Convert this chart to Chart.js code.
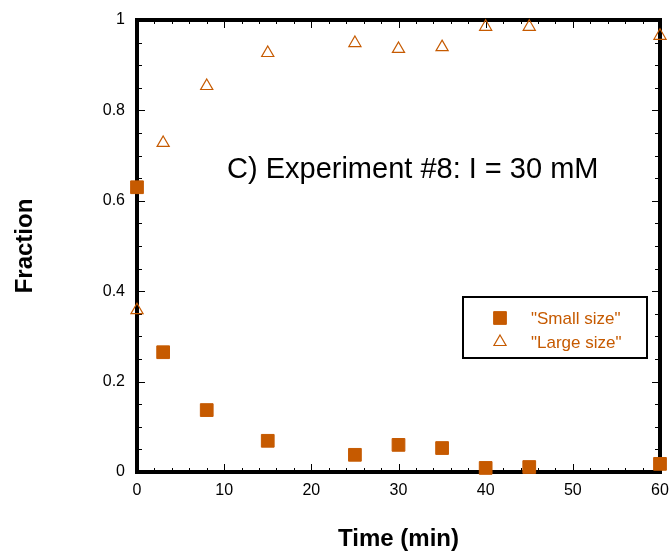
<!DOCTYPE html>
<html>
<head>
<meta charset="utf-8">
<script src="https://cdn.jsdelivr.net/npm/chart.js@4.4.1/dist/chart.umd.min.js"></script>
<style>
    html, body { margin: 0; padding: 0; background: #fff; }
    #wrap { width: 670px; height: 554px; }
</style>
</head>
<body>
<div id="wrap"><canvas id="grafico" width="670" height="554"></canvas></div>
<script>
// dados
const tempos = [0, 3, 8, 15, 25, 30, 35, 40, 45, 60];
const pequeno = [0.63, 0.265, 0.137, 0.069, 0.038, 0.06, 0.053, 0.009, 0.011, 0.018];
const grande = [0.358, 0.728, 0.854, 0.927, 0.949, 0.936, 0.94, 0.985, 0.985, 0.965];
const nomesSeries = ['"Small size"', '"Large size"'];
const xTickLabels = [0, 10, 20, 30, 40, 50, 60];
const yTickLabels = [0, 0.2, 0.4, 0.6, 0.8, 1];
const anotacao = "C) Experiment #8: I = 30 mM";

const laranja = "#C65A00";

function pares(valores) {
    return tempos.map((t, i) => ({ x: t, y: valores[i] }));
}

// moldura, marcas de escala para dentro, texto e legenda
const moldura = {
    id: "moldura",
    beforeDatasetsDraw(chart) {
        const { ctx, chartArea: a, scales } = chart;
        ctx.save();
        ctx.strokeStyle = "#000";
        // marcas do eixo x (menores a cada 2)
        ctx.lineWidth = 1;
        for (let v = 0; v <= 60; v += 2) {
            const px = Math.round(scales.x.getPixelForValue(v)) + 0.5;
            const len = v % 10 === 0 ? 8 : 4;
            ctx.beginPath();
            ctx.moveTo(px, a.bottom); ctx.lineTo(px, a.bottom - len);
            ctx.moveTo(px, a.top); ctx.lineTo(px, a.top + len);
            ctx.stroke();
        }
        // marcas do eixo y (menores a cada 0.05)
        for (let k = 0; k <= 20; k++) {
            const py = Math.round(scales.y.getPixelForValue(k * 0.05)) + 0.5;
            const len = k % 4 === 0 ? 8 : 5;
            ctx.beginPath();
            ctx.moveTo(a.left, py); ctx.lineTo(a.left + len, py);
            ctx.moveTo(a.right, py); ctx.lineTo(a.right - len, py);
            ctx.stroke();
        }
        ctx.lineWidth = 4;
        ctx.strokeRect(a.left, a.top, a.right - a.left, a.bottom - a.top);

        // anotação
        ctx.fillStyle = "#000";
        ctx.font = "29px 'Liberation Sans', Arial, sans-serif";
        ctx.textBaseline = "alphabetic";
        ctx.textAlign = "left";
        ctx.fillText(anotacao, 227, 178);

        // legenda
        ctx.lineWidth = 2;
        ctx.strokeStyle = "#000";
        ctx.strokeRect(463, 297, 184, 61);
        ctx.font = "17px 'Liberation Sans', Arial, sans-serif";
        ctx.textBaseline = "middle";
        chart.data.datasets.forEach((ds, i) => {
            const y = 318 + i * 24;
            ctx.fillStyle = ds.backgroundColor;
            ctx.strokeStyle = ds.borderColor;
            ctx.lineWidth = ds.borderWidth;
            Chart.helpers.drawPoint(ctx, {
                pointStyle: ds.pointStyle,
                radius: ds.pointRadius,
                borderWidth: ds.borderWidth
            }, 500, y);
            ctx.fillStyle = laranja;
            ctx.fillText(ds.label, 531, y + 1);
        });
        ctx.restore();
    }
};

new Chart(document.getElementById("grafico").getContext("2d"), {
    type: "scatter",
    data: {
        datasets: [
            {
                label: nomesSeries[0],
                data: pares(pequeno),
                pointStyle: "rect",
                pointRadius: 9,
                pointHoverRadius: 9,
                backgroundColor: laranja,
                borderColor: laranja,
                borderWidth: 1,
                clip: false
            },
            {
                label: nomesSeries[1],
                data: pares(grande),
                pointStyle: "triangle",
                pointRadius: 7,
                pointHoverRadius: 7,
                backgroundColor: "rgba(0,0,0,0)",
                borderColor: laranja,
                borderWidth: 1.2,
                clip: false
            }
        ]
    },
    plugins: [moldura],
    options: {
        responsive: false,
        animation: false,
        layout: { padding: { top: 20, right: 10, left: 0, bottom: 0 } },
        plugins: {
            legend: { display: false },
            tooltip: { enabled: false }
        },
        scales: {
            x: {
                type: "linear",
                min: 0,
                max: 60,
                afterFit(scale) {
                    scale.height = 82;
                    scale.paddingLeft = 0;
                    scale.paddingRight = 0;
                },
                afterBuildTicks(scale) { scale.ticks = xTickLabels.map(v => ({ value: v })); },
                grid: { display: false, drawTicks: false },
                border: { display: false },
                ticks: {
                    padding: 9,
                    color: "#000",
                    font: { family: "'Liberation Sans', Arial, sans-serif", size: 16 }
                },
                title: {
                    display: true,
                    text: "Time (min)",
                    color: "#000",
                    padding: { top: 0, bottom: 0 },
                    font: { family: "'Liberation Sans', Arial, sans-serif", size: 24, weight: "bold" }
                }
            },
            y: {
                type: "linear",
                min: 0,
                max: 1,
                afterFit(scale) {
                    scale.width = 137;
                    scale.paddingTop = 0;
                    scale.paddingBottom = 0;
                },
                afterBuildTicks(scale) { scale.ticks = yTickLabels.map(v => ({ value: v })); },
                grid: { display: false, drawTicks: false },
                border: { display: false },
                ticks: {
                    padding: 12,
                    color: "#000",
                    font: { family: "'Liberation Sans', Arial, sans-serif", size: 16 },
                    callback: v => String(v)
                },
                title: {
                    display: true,
                    text: "Fraction",
                    color: "#000",
                    padding: { top: 11, bottom: 0 },
                    font: { family: "'Liberation Sans', Arial, sans-serif", size: 24, weight: "bold" }
                }
            }
        }
    }
});
</script>
</body>
</html>
